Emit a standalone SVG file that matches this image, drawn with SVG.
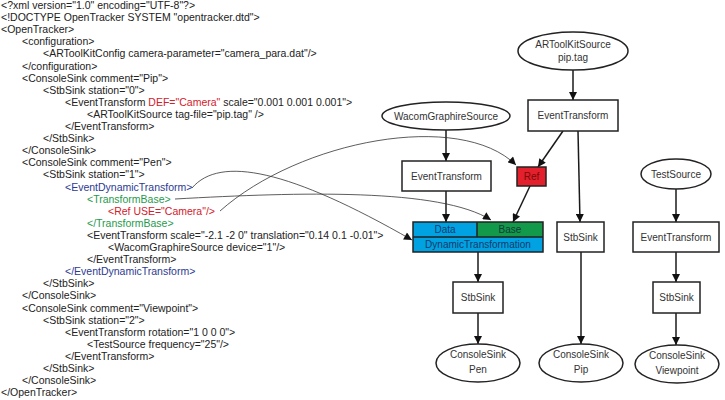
<svg xmlns="http://www.w3.org/2000/svg" width="725" height="400" viewBox="0 0 725 400">
<defs>
<style>
.code{font-family:"Liberation Sans",Arial,sans-serif;font-size:10.5px;fill:#222}
.red{fill:#d3202a}
.blue{fill:#2c3a92}
.green{fill:#1f9a4c}
.box{fill:#fff;stroke:#222;stroke-width:1.5}
.lbl{font-family:"Liberation Sans",Arial,sans-serif;font-size:10px;fill:#333;text-anchor:middle}
.edge{fill:none;stroke:#1a1a1a;stroke-width:1.5;marker-end:url(#ah)}
.thin{fill:none;stroke:#333;stroke-width:0.8;marker-end:url(#ah)}
</style>
<marker id="ah" viewBox="0 0 10 10" refX="10" refY="5" markerWidth="9" markerHeight="8" markerUnits="userSpaceOnUse" orient="auto"><path d="M0,0 L10,5 L0,10 z" fill="#111"/></marker>
</defs>
<rect width="725" height="400" fill="#fff"/>
<g id="code" class="code">
<text x="1" y="9">&lt;?xml version="1.0" encoding="UTF-8"?&gt;</text>
<text x="1" y="21.1">&lt;!DOCTYPE OpenTracker SYSTEM "opentracker.dtd"&gt;</text>
<text x="1" y="33.2">&lt;OpenTracker&gt;</text>
<text x="22" y="45.3">&lt;configuration&gt;</text>
<text x="43" y="57.4">&lt;ARToolKitConfig camera-parameter="camera_para.dat"/&gt;</text>
<text x="22" y="69.5">&lt;/configuration&gt;</text>
<text x="22" y="81.6">&lt;ConsoleSink comment="Pip"&gt;</text>
<text x="43" y="93.7">&lt;StbSink station="0"&gt;</text>
<text x="65" y="105.8">&lt;EventTransform <tspan class="red">DEF="Camera"</tspan> scale="0.001 0.001 0.001"&gt;</text>
<text x="87" y="117.9">&lt;ARToolKitSource tag-file="pip.tag" /&gt;</text>
<text x="65" y="130">&lt;/EventTransform&gt;</text>
<text x="43" y="142.1">&lt;/StbSink&gt;</text>
<text x="22" y="154.2">&lt;/ConsoleSink&gt;</text>
<text x="22" y="166.3">&lt;ConsoleSink comment="Pen"&gt;</text>
<text x="43" y="178.4">&lt;StbSink station="1"&gt;</text>
<text x="65" y="190.5" class="blue">&lt;EventDynamicTransform&gt;</text>
<text x="87" y="202.6" class="green">&lt;TransformBase&gt;</text>
<text x="108" y="214.7" class="red">&lt;Ref USE="Camera"/&gt;</text>
<text x="87" y="226.8" class="green">&lt;/TransformBase&gt;</text>
<text x="87" y="238.9">&lt;EventTransform scale="-2.1 -2 0" translation="0.14 0.1 -0.01"&gt;</text>
<text x="108" y="251">&lt;WacomGraphireSource device="1"/&gt;</text>
<text x="87" y="263.1">&lt;/EventTransform&gt;</text>
<text x="65" y="275.2" class="blue">&lt;/EventDynamicTransform&gt;</text>
<text x="43" y="287.3">&lt;/StbSink&gt;</text>
<text x="22" y="299.4">&lt;/ConsoleSink&gt;</text>
<text x="22" y="311.5">&lt;ConsoleSink comment="Viewpoint"&gt;</text>
<text x="43" y="323.6">&lt;StbSink station="2"&gt;</text>
<text x="65" y="335.7">&lt;EventTransform rotation="1 0 0 0"&gt;</text>
<text x="87" y="347.8">&lt;TestSource frequency="25"/&gt;</text>
<text x="65" y="359.9">&lt;/EventTransform&gt;</text>
<text x="43" y="372">&lt;/StbSink&gt;</text>
<text x="22" y="384.1">&lt;/ConsoleSink&gt;</text>
<text x="1" y="396.2">&lt;/OpenTracker&gt;</text>
</g>
<g id="edges">
<path class="edge" d="M573,70 L573,100"/>
<path class="edge" d="M446,130 L446,161"/>
<path class="edge" d="M563,131 L538,167"/>
<path class="edge" d="M578,131 L580,222"/>
<path class="edge" d="M446,191 L446,222"/>
<path class="edge" d="M530,186 L513,222"/>
<path class="edge" d="M478,252 L478,282"/>
<path class="edge" d="M478,313 L478,344"/>
<path class="edge" d="M581,252 L581,344"/>
<path class="edge" d="M676,189 L676,222"/>
<path class="edge" d="M676,252 L676,282"/>
<path class="edge" d="M676,313 L676,345"/>
<path class="thin" d="M192,188 C220,155 290,170 412,240"/>
<path class="thin" d="M175,199 C300,192 440,188 491,220"/>
<path class="thin" d="M220,211 C300,140 460,110 516,165"/>
</g>
<g id="n-artoolkit"><ellipse class="box" cx="573" cy="51" rx="55" ry="19"/><text class="lbl" x="573" y="48">ARToolKitSource</text><text class="lbl" x="573" y="61">pip.tag</text></g>
<g id="n-et-pip"><rect class="box" x="528" y="100" width="90" height="31"/><text class="lbl" x="573" y="119">EventTransform</text></g>
<g id="n-wacom"><ellipse class="box" cx="446" cy="116" rx="64" ry="14"/><text class="lbl" x="446" y="120">WacomGraphireSource</text></g>
<g id="n-et-pen"><rect class="box" x="402" y="161" width="89" height="30"/><text class="lbl" x="446.5" y="180">EventTransform</text></g>
<g id="n-ref"><rect x="517" y="167" width="29" height="19" fill="#e3202c" stroke="#222" stroke-width="1.5"/><text class="lbl" x="531.5" y="180" style="fill:#7a0a0a">Ref</text></g>
<g id="n-dyn">
<rect x="413" y="222" width="64" height="15" fill="#00a2e2"/>
<rect x="477" y="222" width="66" height="15" fill="#12994a"/>
<rect x="413" y="237" width="130" height="15" fill="#00a2e2"/>
<path d="M413,222 H543 V252 H413 Z M413,237 H543 M477,222 V237" fill="none" stroke="#222" stroke-width="1.5"/>
<text class="lbl" x="445" y="233" style="fill:#123a6a">Data</text>
<text class="lbl" x="510" y="233" style="fill:#123a3a">Base</text>
<text class="lbl" x="478" y="248" style="fill:#123a6a">DynamicTransformation</text>
</g>
<g id="n-stb-pip"><rect class="box" x="557" y="222" width="47" height="30"/><text class="lbl" x="580.5" y="241">StbSink</text></g>
<g id="n-stb-pen"><rect class="box" x="453" y="282" width="50" height="31"/><text class="lbl" x="478" y="301">StbSink</text></g>
<g id="n-cs-pen"><ellipse class="box" cx="478" cy="363" rx="42" ry="19"/><text class="lbl" x="478" y="358">ConsoleSink</text><text class="lbl" x="478" y="373">Pen</text></g>
<g id="n-cs-pip"><ellipse class="box" cx="581" cy="363" rx="42" ry="19"/><text class="lbl" x="581" y="358">ConsoleSink</text><text class="lbl" x="581" y="373">Pip</text></g>
<g id="n-testsource"><ellipse class="box" cx="676" cy="174" rx="35" ry="15"/><text class="lbl" x="676" y="178">TestSource</text></g>
<g id="n-et-vp"><rect class="box" x="633" y="222" width="86" height="30"/><text class="lbl" x="676" y="241">EventTransform</text></g>
<g id="n-stb-vp"><rect class="box" x="653" y="282" width="47" height="31"/><text class="lbl" x="676.5" y="301">StbSink</text></g>
<g id="n-cs-vp"><ellipse class="box" cx="677" cy="364" rx="42" ry="19"/><text class="lbl" x="677" y="359">ConsoleSink</text><text class="lbl" x="677" y="374">Viewpoint</text></g>
</svg>
